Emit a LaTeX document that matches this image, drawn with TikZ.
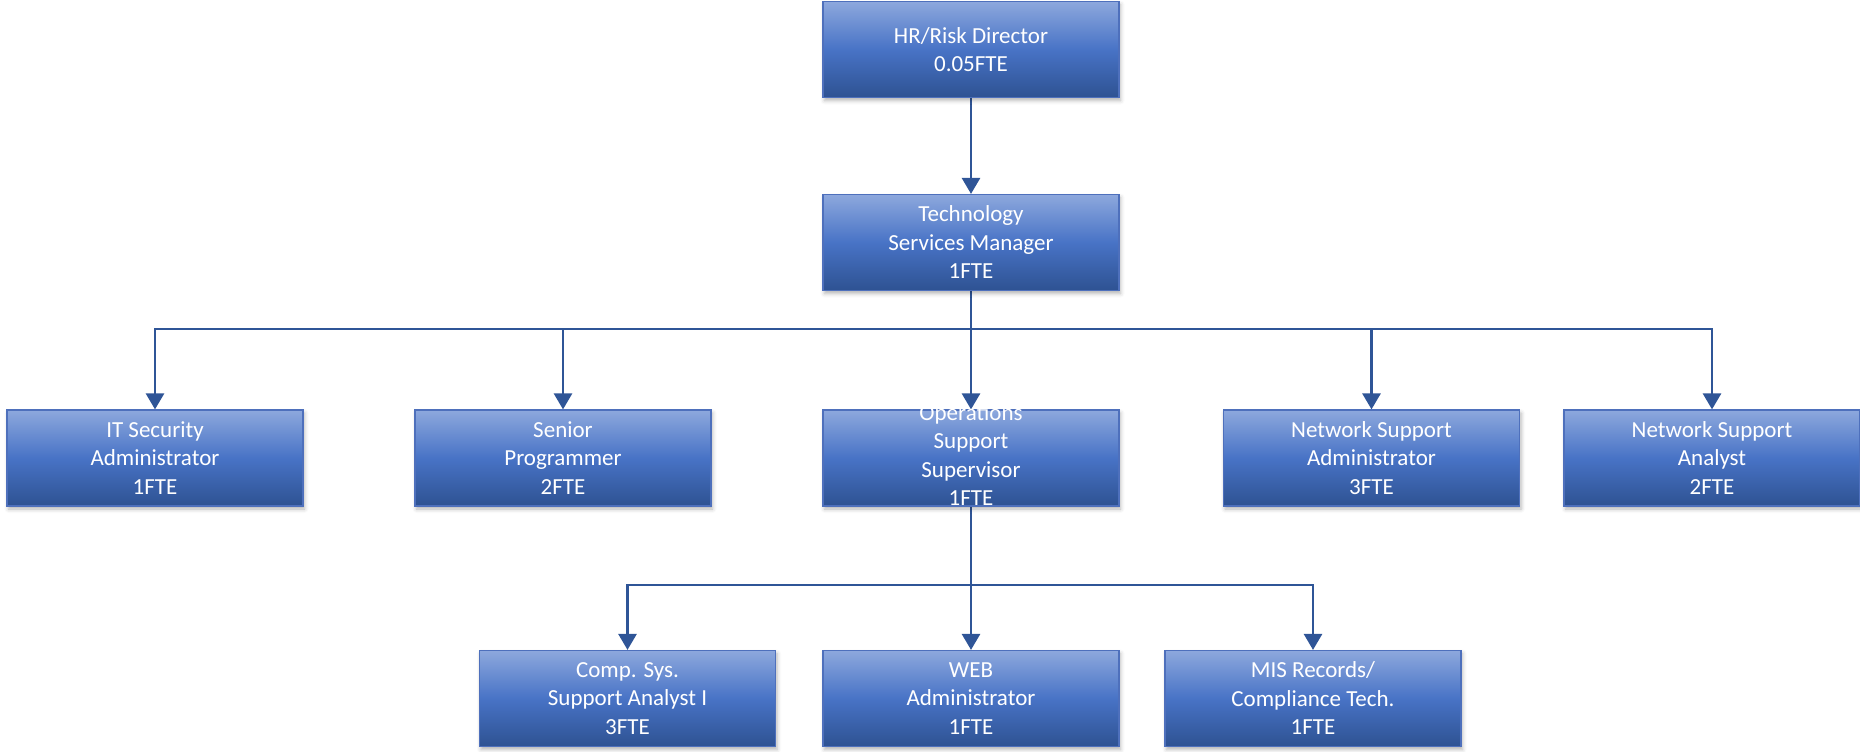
\documentclass[tikz,border=0pt]{standalone}
\usepackage{fontspec}
\setmainfont{Carlito}
\usetikzlibrary{arrows.meta,shadows.blur,backgrounds}

\definecolor{boxtop}{RGB}{141,168,221}
\definecolor{boxmid}{RGB}{72,115,198}
\definecolor{boxbot}{RGB}{46,82,146}
\definecolor{boxedge}{RGB}{78,112,188}
\definecolor{wire}{RGB}{47,85,151}

\tikzset{
  orgbox/.style={draw=boxedge, line width=1.2pt,
    top color=boxtop, bottom color=boxbot, middle color=boxmid,
    minimum width=296pt, minimum height=96pt, inner sep=0pt,
    align=center, text=white, font=\fontsize{23}{28.5}\selectfont,
    blur shadow={shadow xshift=1.5pt, shadow yshift=-3pt,
      shadow blur radius=4pt, shadow opacity=30}},
  conn/.style={draw=wire, line width=2.8pt,
    -{Triangle[width=18pt,length=16pt]}}
}

\begin{document}
\begin{tikzpicture}[x=1pt,y=1pt]
\useasboundingbox (0,0) rectangle (1860,-752);

% top of the chart
\node[orgbox] (hr)   at (971,-49.5)  {HR/Risk Director\\0.05FTE};
\node[orgbox] (tech) at (971,-242.5) {Technology\\Services Manager\\1FTE};

% second level
\node[orgbox] (itsec) at (155,-458)    {IT Security\\Administrator\\1FTE};
\node[orgbox] (senior) at (563,-458)   {Senior\\Programmer\\2FTE};
\node[orgbox] (ops)   at (971,-458)    {\raisebox{-11pt}{\smash{\begin{tabular}{@{}c@{}}Operations\\Support\\Supervisor\\1FTE\end{tabular}}}};
\node[orgbox] (netadm) at (1371.5,-458) {Network Support\\Administrator\\3FTE};
\node[orgbox] (netana) at (1712,-458)   {Network Support\\Analyst\\2FTE};

% third level
\node[orgbox] (comp) at (627.5,-698.5) {Comp. Sys.\\Support Analyst I\\3FTE};
\node[orgbox] (web)  at (971,-698.5)   {WEB\\Administrator\\1FTE};
\node[orgbox] (mis)  at (1313,-698.5)  {MIS Records/\\Compliance Tech.\\1FTE};

% bus levels
\coordinate (busA) at (0,-329);
\coordinate (busB) at (0,-585);

\begin{scope}[on background layer]
  \draw[conn] (hr.south) -- (tech.north);
  \foreach \n in {itsec,senior,ops,netadm,netana}
    \draw[conn] (tech.south) -- (tech.south |- busA) -| (\n.north);
  \foreach \n in {comp,web,mis}
    \draw[conn] (ops.south) -- (ops.south |- busB) -| (\n.north);
\end{scope}
\end{tikzpicture}
\end{document}
